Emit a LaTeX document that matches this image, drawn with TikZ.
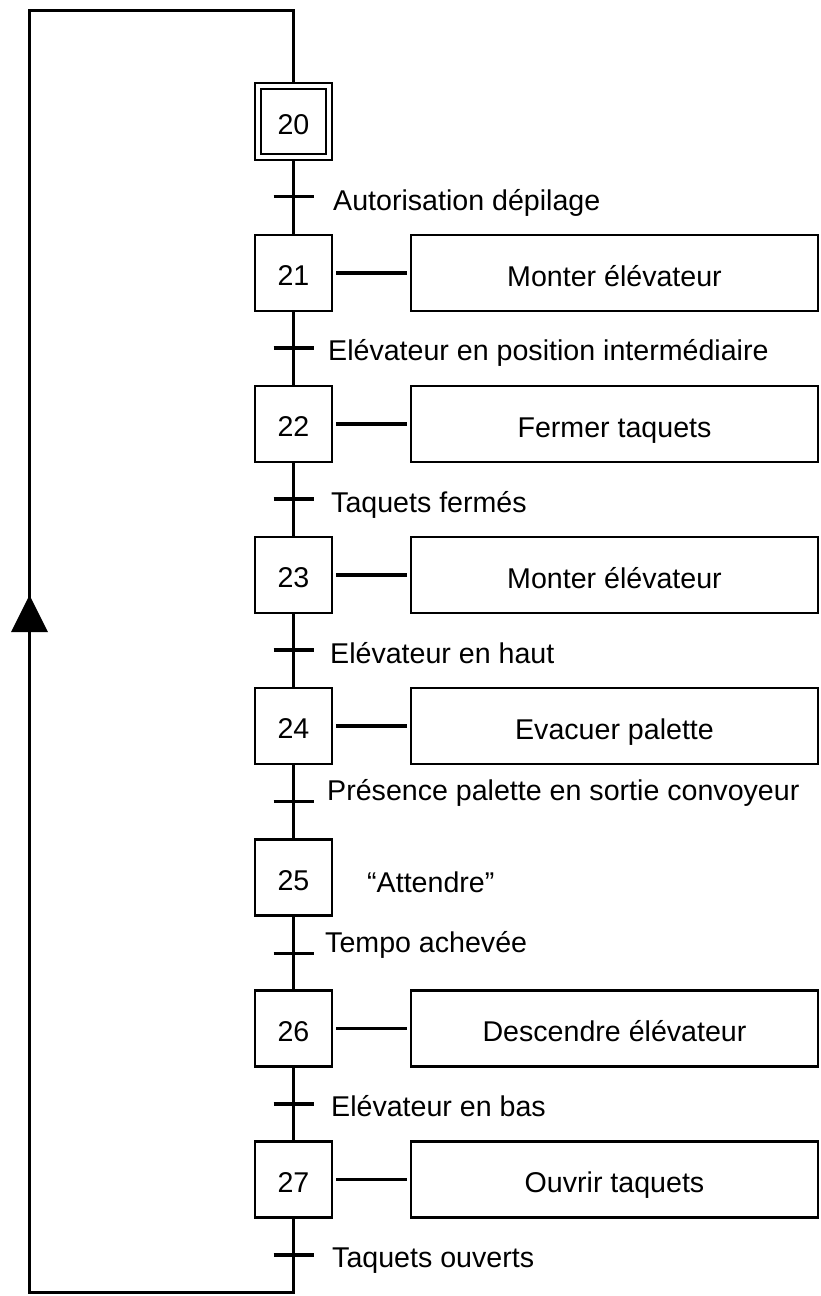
\documentclass[tikz,border=0pt]{standalone}
\usepackage{fontspec}
\setmainfont{Liberation Sans}
\usetikzlibrary{backgrounds}
\begin{document}
\begin{tikzpicture}[x=1pt,y=-1pt,
  every node/.style={font=\fontsize{28.6}{34}\selectfont, inner sep=0pt},
  stepbox/.style={draw, line width=2.5pt, fill=white, minimum width=77pt, minimum height=76pt,
                  text height=25pt, text depth=0pt},
  initstep/.style={draw, line width=2pt, double, double distance=3.4pt, fill=white,
                   minimum width=71pt, minimum height=71pt, text height=25pt, text depth=0pt},
  actbox/.style={draw, line width=2.5pt, fill=white, minimum width=407pt, minimum height=76pt,
                 text height=26pt, text depth=0pt},
  flow/.style={line width=3.1pt, line join=miter},
  link/.style={line width=3.1pt, shorten <=3pt, shorten >=3pt},
  trans/.style={line width=3.1pt},
  cond/.style={anchor=base west}]
\useasboundingbox (0,0) rectangle (820,1296);

% steps
\node[initstep] (s20) at (293.5,121.5) {20};
\node[stepbox] (s21) at (293.5,273) {21};
\node[stepbox] (s22) at (293.5,424) {22};
\node[stepbox] (s23) at (293.5,575) {23};
\node[stepbox] (s24) at (293.5,726) {24};
\node[stepbox] (s25) at (293.5,877.5) {25};
\node[stepbox] (s26) at (293.5,1028.5) {26};
\node[stepbox] (s27) at (293.5,1179.5) {27};

% actions
\node[actbox] (a21) at (614.5,273) {Monter élévateur};
\node[actbox] (a22) at (614.5,424) {Fermer taquets};
\node[actbox] (a23) at (614.5,575) {Monter élévateur};
\node[actbox] (a24) at (614.5,726) {Evacuer palette};
\node[cond] (a25) at (367,892) {“Attendre”};
\node[actbox] (a26) at (614.5,1028.5) {Descendre élévateur};
\node[actbox] (a27) at (614.5,1179.5) {Ouvrir taquets};

\foreach \i in {21,22,23,24,26,27}{\draw[link] (s\i.east) -- (a\i.west);}

% transitions
\coordinate (t20) at (293.5,196.5);
\coordinate (t21) at (293.5,348);
\coordinate (t22) at (293.5,499);
\coordinate (t23) at (293.5,650);
\coordinate (t24) at (293.5,801.5);
\coordinate (t25) at (293.5,953.5);
\coordinate (t26) at (293.5,1104);
\coordinate (t27) at (293.5,1255);
\foreach \i in {20,...,27}{\draw[trans] ([xshift=-20pt]t\i) -- ([xshift=20pt]t\i);}

\node[cond] (c20) at (333,210) {Autorisation dépilage};
\node[cond] (c21) at (328,360) {Elévateur en position intermédiaire};
\node[cond] (c22) at (331,512) {Taquets fermés};
\node[cond] (c23) at (330,663) {Elévateur en haut};
\node[cond] (c24) at (327,800) {Présence palette en sortie convoyeur};
\node[cond] (c25) at (325,952) {Tempo achevée};
\node[cond] (c26) at (331,1116) {Elévateur en bas};
\node[cond] (c27) at (332,1267) {Taquets ouverts};

% loop-back corners
\coordinate (top) at (293.5,10.2);
\coordinate (topleft) at (29.5,10.2);
\coordinate (botleft) at (29.5,1292.8);
\coordinate (bot) at (293.5,1292.8);

\begin{scope}[on background layer]
  \draw[flow] (s20.south) -- (s21.north);
  \draw[flow] (s21.south) -- (s22.north);
  \draw[flow] (s22.south) -- (s23.north);
  \draw[flow] (s23.south) -- (s24.north);
  \draw[flow] (s24.south) -- (s25.north);
  \draw[flow] (s25.south) -- (s26.north);
  \draw[flow] (s26.south) -- (s27.north);
  \draw[flow] (s27.south) -- (bot) -- (botleft) -- (topleft) -- (top) -- (s20.north);
\end{scope}
% upward arrowhead on the return line
\fill (29.5,595) -- (48,632) -- (11,632) -- cycle;
\end{tikzpicture}
\end{document}
